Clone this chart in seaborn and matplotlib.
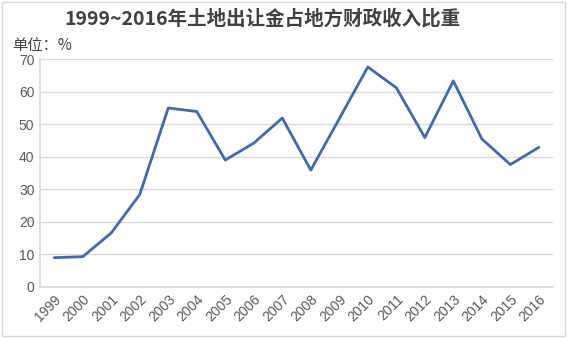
import matplotlib
matplotlib.use("Agg")
import matplotlib.pyplot as plt
import seaborn as sns
import pandas as pd

years = ["1999", "2000", "2001", "2002", "2003", "2004", "2005", "2006", "2007",
         "2008", "2009", "2010", "2011", "2012", "2013", "2014", "2015", "2016"]
share = [9.0, 9.3, 16.6, 28.4, 55.0, 53.9, 39.0, 44.2, 51.9,
         35.9, 51.7, 67.6, 61.2, 45.9, 63.3, 45.5, 37.6, 42.9]
yticks = [0, 10, 20, 30, 40, 50, 60, 70]

sns.set_theme(style="white")
plt.rcParams['font.family'] = ['Noto Sans CJK SC', 'DejaVu Sans']

df = pd.DataFrame({"year": years, "share": share})

fig = plt.figure(figsize=(5.67, 3.38), dpi=100)
ax = fig.add_axes([0.0705, 0.151, 0.905, 0.674])
sns.lineplot(data=df, x="year", y="share", ax=ax, color="#4169AE", linewidth=2.0, sort=False)

ax.set_xlim(-0.5, len(years) - 0.5)
ax.set_ylim(0, 70)
ax.set_yticks(yticks)
ax.set_yticklabels([str(v) for v in yticks], fontsize=10, color="#595959",
                   family=['Liberation Sans', 'DejaVu Sans'])
ax.set_xticks(range(len(years)))
ax.set_xticklabels(years, rotation=45, fontsize=10, color="#595959",
                   family=['Liberation Sans', 'DejaVu Sans'], ha="right", rotation_mode="anchor")
ax.tick_params(axis="both", length=0, pad=4)
ax.set_xlabel("")
ax.set_ylabel("")
ax.grid(axis="y", color="#D9D9D9", linewidth=1.0)
ax.set_axisbelow(True)
for s in ["top", "right"]:
    ax.spines[s].set_visible(False)
ax.spines["left"].set_color("#D9D9D9")
ax.spines["bottom"].set_color("#D9D9D9")

fig.text(0.462, 0.945, "1999~2016年土地出让金占地方财政收入比重", ha="center", va="center",
         fontsize=14, fontweight="bold", color="#404040")
fig.text(0.022, 0.865, "单位：%", ha="left", va="center", fontsize=11, color="#404040")

fig.patches.append(plt.Rectangle((0.003, 0.005), 0.994, 0.99, transform=fig.transFigure,
                                 fill=False, edgecolor="#D9D9D9", linewidth=1.0))
fig.savefig("out.png", dpi=100)
